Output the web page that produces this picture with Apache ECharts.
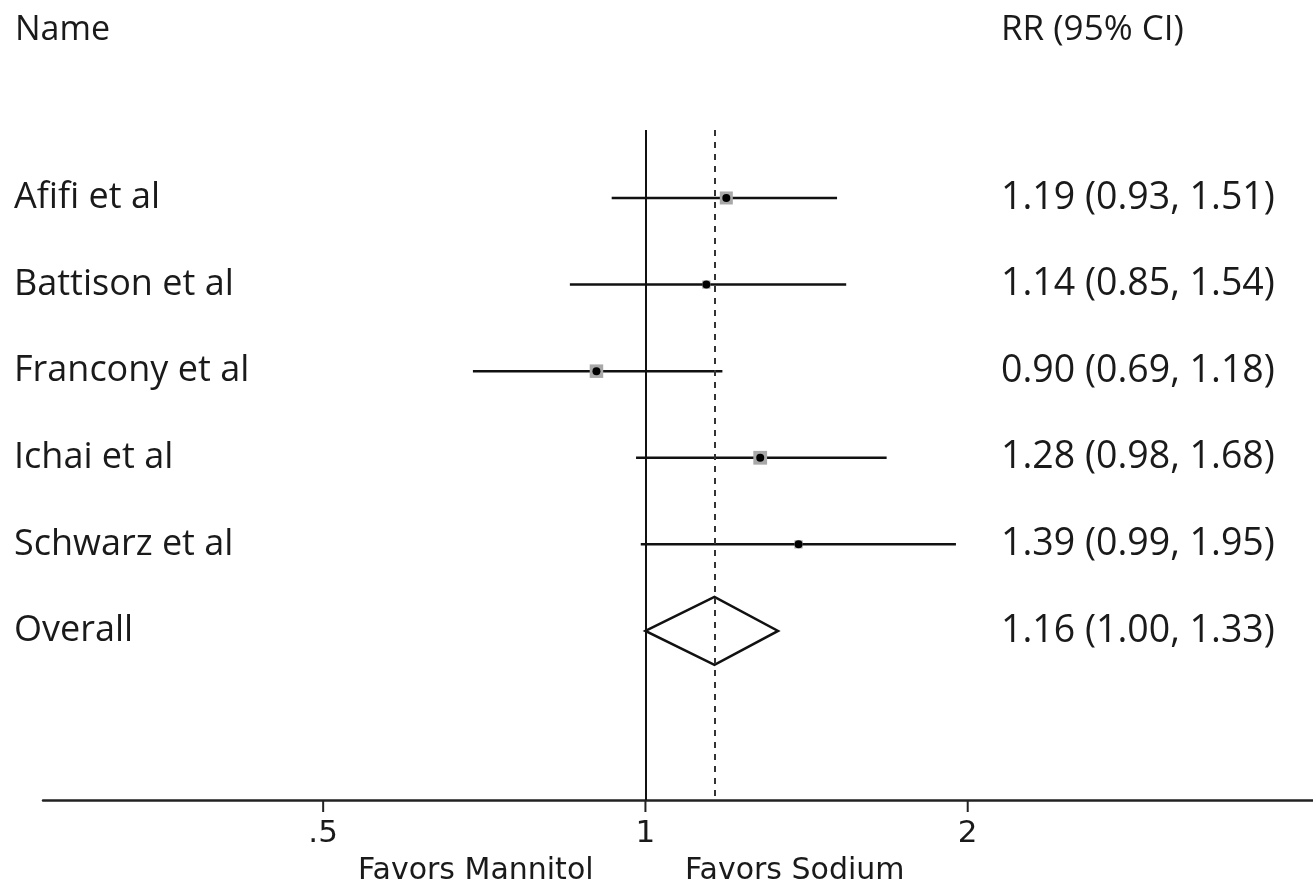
<!DOCTYPE html>
<html>
<head>
<meta charset="utf-8">
<script src="https://cdn.jsdelivr.net/npm/echarts@6/dist/echarts.min.js"></script>
<style>
html, body { margin: 0; padding: 0; background: #fff; }
#chart { width: 1313px; height: 888px; }
</style>
</head>
<body>
<div id="chart"></div>
<script>
// studies (rows 1..5), overall estimate in row 6
const studies = ['Afifi et al', 'Battison et al', 'Francony et al', 'Ichai et al', 'Schwarz et al'];
const rr = [1.19, 1.14, 0.90, 1.28, 1.39];
const lower = [0.93, 0.85, 0.69, 0.98, 0.99];
const upper = [1.51, 1.54, 1.18, 1.68, 1.95];
const weights = [25, 10, 27, 28, 10]; // % weight, drives box size
const overallName = 'Overall';
const overallRR = 1.16;
const overallCI = [1.00, 1.33];
const tickValues = [0.5, 1, 2];
const tickLabels = ['.5', '1', '2'];

const rowNames = studies.concat([overallName]);
const fmt = v => v.toFixed(2);
const ciText = rr.map((v, i) => fmt(v) + ' (' + fmt(lower[i]) + ', ' + fmt(upper[i]) + ')')
  .concat([fmt(overallRR) + ' (' + fmt(overallCI[0]) + ', ' + fmt(overallCI[1]) + ')']);
const rowIdx = rowNames.map((n, i) => i + 1);

const yMin = 0.215, yMax = 7.952;
const tableFont = '"Open Sans", "DejaVu Sans", sans-serif';
const axisFont = '"DejaVu Sans", sans-serif';

const chart = echarts.init(document.getElementById('chart'));

const option = {
  backgroundColor: '#fff',
  animation: false,
  grid: { left: 43, right: 0, top: 130, bottom: 88 },
  xAxis: {
    type: 'log',
    logBase: 2,
    min: 0.2737,
    max: 4.203,
    axisLine: { lineStyle: { color: '#222', width: 2.5 } },
    axisTick: { show: false },
    axisLabel: {
      customValues: tickValues,
      formatter: v => tickLabels[tickValues.indexOf(v)] || '',
      margin: 18,
      fontSize: 31,
      fontFamily: axisFont,
      color: '#1a1a1a'
    },
    splitLine: { show: false },
    minorTick: { show: false }
  },
  yAxis: [
    {
      type: 'value',
      inverse: true,
      min: yMin,
      max: yMax,
      position: 'left',
      axisLine: { show: false },
      axisTick: { show: false },
      splitLine: { show: false },
      axisLabel: {
        customValues: rowIdx,
        formatter: v => rowNames[v - 1],
        align: 'left',
        margin: 29,
        fontSize: 36,
        fontFamily: tableFont,
        color: '#1a1a1a'
      }
    },
    {
      type: 'value',
      inverse: true,
      min: yMin,
      max: yMax,
      position: 'right',
      axisLine: { show: false },
      axisTick: { show: false },
      splitLine: { show: false },
      axisLabel: {
        customValues: rowIdx,
        formatter: v => ciText[v - 1],
        align: 'left',
        margin: -312,
        fontSize: 37.5,
        fontFamily: tableFont,
        color: '#1a1a1a'
      }
    }
  ],
  graphic: [
    { id: 'hName', type: 'text', left: 15, top: 13, style: { text: 'Name', fontSize: 34, fontFamily: tableFont, fill: '#1a1a1a' } },
    { id: 'hRR', type: 'text', left: 1001, top: 13, style: { text: 'RR (95% CI)', fontSize: 35, fontFamily: tableFont, fill: '#1a1a1a' } },
    { id: 'favM', type: 'text', left: 358, top: 856, style: { text: 'Favors Mannitol', fontSize: 30, fontFamily: axisFont, fill: '#1a1a1a' } },
    { id: 'favS', type: 'text', left: 685, top: 856, style: { text: 'Favors Sodium', fontSize: 30, fontFamily: axisFont, fill: '#1a1a1a' } }
  ],
  series: [
    {
      name: 'studies',
      type: 'custom',
      xAxisIndex: 0,
      yAxisIndex: 0,
      encode: { x: [0, 1, 2], y: 3 },
      data: studies.map((n, i) => [lower[i], upper[i], rr[i], i + 1, weights[i]]),
      renderItem: function (params, api) {
        const a = api.coord([api.value(0), api.value(3)]);
        const b = api.coord([api.value(1), api.value(3)]);
        const c = api.coord([api.value(2), api.value(3)]);
        const box = 2.6 * Math.sqrt(api.value(4));
        return {
          type: 'group',
          children: [
            { type: 'line', shape: { x1: a[0], y1: a[1], x2: b[0], y2: b[1] }, style: { stroke: '#111', lineWidth: 2.5 } },
            { type: 'rect', shape: { x: c[0] - box / 2, y: c[1] - box / 2, width: box, height: box }, style: { fill: '#a8a8a8' } },
            { type: 'circle', shape: { cx: c[0], cy: c[1], r: 4 }, style: { fill: '#000' } }
          ]
        };
      },
      markLine: {
        silent: true,
        symbol: 'none',
        label: { show: false },
        data: [
          { xAxis: 1, lineStyle: { color: '#111', width: 2, type: 'solid' } },
          { xAxis: overallRR, lineStyle: { color: '#333', width: 2, type: [6, 6] } }
        ]
      },
      z: 3
    },
    {
      name: 'overall',
      type: 'custom',
      xAxisIndex: 0,
      yAxisIndex: 0,
      encode: { x: [0, 1, 2], y: 3 },
      data: [[overallCI[0], overallCI[1], overallRR, studies.length + 1]],
      renderItem: function (params, api) {
        const a = api.coord([api.value(0), api.value(3)]);
        const b = api.coord([api.value(1), api.value(3)]);
        const c = api.coord([api.value(2), api.value(3)]);
        const h = 34;
        return {
          type: 'polygon',
          shape: { points: [[a[0], a[1]], [c[0], c[1] - h], [b[0], b[1]], [c[0], c[1] + h]] },
          style: { fill: 'rgba(255,255,255,0)', stroke: '#111', lineWidth: 2.5 }
        };
      },
      z: 4
    }
  ]
};

chart.setOption(option);

// x-axis tick marks, placed through the axis scale
const tickMarks = tickValues.map((v, i) => {
  const p = chart.convertToPixel({ gridIndex: 0 }, [v, yMax]);
  return {
    id: 'tick' + i,
    type: 'line',
    z: 10,
    shape: { x1: p[0], y1: p[1], x2: p[0], y2: p[1] + 12 },
    style: { stroke: '#222', lineWidth: 2 }
  };
});
chart.setOption({ graphic: tickMarks });
</script>
</body>
</html>
